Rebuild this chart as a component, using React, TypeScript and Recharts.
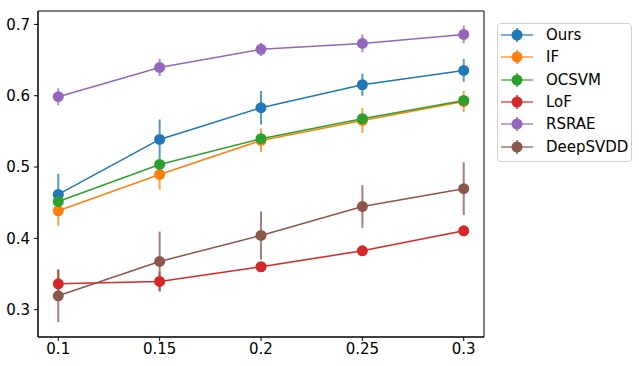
import React from 'react';
import { LineChart, Line, XAxis, YAxis, ErrorBar, ReferenceArea } from 'recharts';

const contamination = [0.1, 0.15, 0.2, 0.25, 0.3];

const ours = [0.4616, 0.5387, 0.5832, 0.6154, 0.6355];
const oursErr = [0.029, 0.028, 0.0234, 0.0155, 0.016];
const iforest = [0.4387, 0.4896, 0.5373, 0.5654, 0.592];
const iforestErr = [0.0215, 0.0215, 0.0166, 0.0175, 0.015];
const ocsvm = [0.4518, 0.5036, 0.5397, 0.5677, 0.5934];
const ocsvmErr = [0.005, 0.005, 0.005, 0.005, 0.005];
const lof = [0.3363, 0.3396, 0.3602, 0.3826, 0.4106];
const lofErr = [0.0196, 0.0136, 0.004, 0.004, 0.004];
const rsrae = [0.5986, 0.6397, 0.665, 0.6734, 0.686];
const rsraeErr = [0.012, 0.012, 0.0094, 0.0126, 0.0124];
const deepsvdd = [0.3195, 0.3676, 0.4041, 0.4447, 0.4696];
const deepsvddErr = [0.037, 0.042, 0.0337, 0.03, 0.037];

const xTicks = [0.1, 0.15, 0.2, 0.25, 0.3];
const yTicks = [0.3, 0.4, 0.5, 0.6, 0.7];

const X_DOMAIN: [number, number] = [0.09, 0.31];
const Y_DOMAIN: [number, number] = [0.2617, 0.7188];

const series = [
  { key: 'ours', name: 'Ours', color: '#1f77b4', values: ours, errors: oursErr },
  { key: 'iforest', name: 'IF', color: '#ff7f0e', values: iforest, errors: iforestErr },
  { key: 'ocsvm', name: 'OCSVM', color: '#2ca02c', values: ocsvm, errors: ocsvmErr },
  { key: 'lof', name: 'LoF', color: '#d62728', values: lof, errors: lofErr },
  { key: 'rsrae', name: 'RSRAE', color: '#9467bd', values: rsrae, errors: rsraeErr },
  { key: 'deepsvdd', name: 'DeepSVDD', color: '#8c564b', values: deepsvdd, errors: deepsvddErr },
];

const data = contamination.map((x, i) => {
  const row: Record<string, number> = { x };
  series.forEach((s) => {
    row[s.key] = s.values[i];
    row[`${s.key}Err`] = s.errors[i];
  });
  return row;
});

const FONT = 'DejaVu Sans, sans-serif';

const LegendBox = () => (
  <div
    style={{
      position: 'absolute',
      left: 497,
      top: 23,
      width: 135,
      height: 139,
      border: '1px solid #d0d0d0',
      borderRadius: 4,
      background: 'rgba(255,255,255,0.8)',
      boxSizing: 'border-box',
      fontFamily: FONT,
      fontSize: 15,
    }}
  >
    {series.map((s, i) => (
      <div key={s.key} style={{ position: 'absolute', left: 0, top: 1 + i * 22.35, height: 22, width: '100%' }}>
        <svg width={40} height={22} style={{ position: 'absolute', left: 1, top: 0 }}>
          <line x1={2} x2={34} y1={10} y2={10} stroke={s.color} strokeWidth={1.5} strokeOpacity={0.8} />
          <line x1={18} x2={18} y1={3} y2={17} stroke={s.color} strokeWidth={2} strokeOpacity={0.75} />
          <circle cx={18} cy={10} r={5.5} fill={s.color} />
        </svg>
        <span style={{ position: 'absolute', left: 48, top: 1, lineHeight: '18px', color: '#000' }}>{s.name}</span>
      </div>
    ))}
  </div>
);

const App: React.FC = () => (
  <div style={{ position: 'absolute', left: 0, top: 0, width: 639, height: 366, background: '#fff' }}>
    <LineChart width={639} height={366} data={data} margin={{ top: 11, right: 155, bottom: 0, left: 0 }}>
      <XAxis
        dataKey="x"
        type="number"
        domain={X_DOMAIN}
        ticks={xTicks}
        allowDataOverflow
        height={29}
        tickSize={4}
        tickMargin={2}
        tick={{ fill: '#000', fontSize: 15, fontFamily: FONT }}
        tickFormatter={(v: number) => String(v)}
        stroke="#000"
      />
      <YAxis
        type="number"
        domain={Y_DOMAIN}
        ticks={yTicks}
        allowDataOverflow
        width={38}
        tickSize={4}
        tickMargin={4}
        tick={{ fill: '#000', fontSize: 15, fontFamily: FONT }}
        tickFormatter={(v: number) => String(v)}
        stroke="#000"
      />
      <ReferenceArea x1={X_DOMAIN[0]} x2={X_DOMAIN[1]} y1={Y_DOMAIN[0]} y2={Y_DOMAIN[1]} fill="none" stroke="#000" strokeWidth={1} />
      {series.map((s) => (
        <Line
          key={s.key}
          dataKey={s.key}
          name={s.name}
          type="linear"
          stroke={s.color}
          strokeWidth={1.5}
          dot={{ r: 5.5, fill: s.color, stroke: s.color, strokeWidth: 0 }}
          activeDot={false}
          isAnimationActive={false}
        >
          <ErrorBar dataKey={`${s.key}Err`} direction="y" width={0} stroke={s.color} strokeWidth={2} strokeOpacity={0.75} isAnimationActive={false} />
        </Line>
      ))}
    </LineChart>
    <LegendBox />
  </div>
);

export default App;
